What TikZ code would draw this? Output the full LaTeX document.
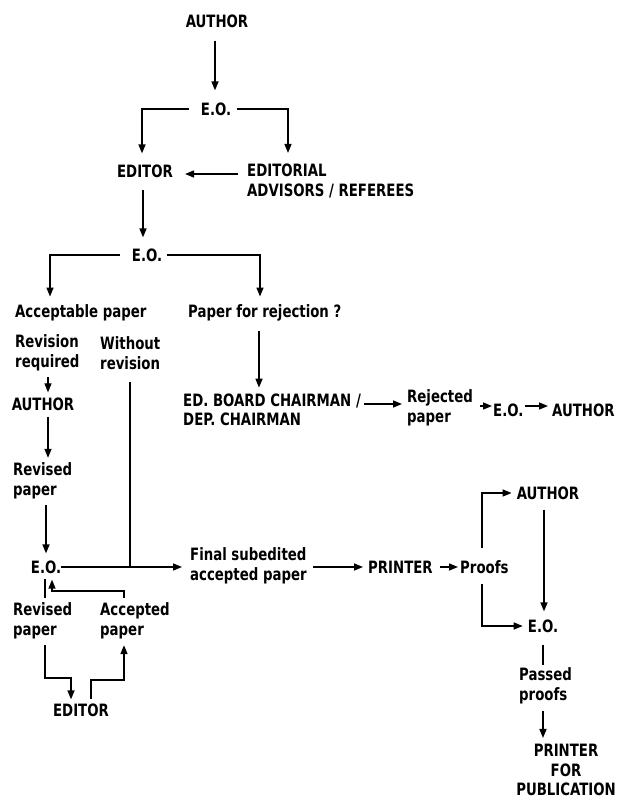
\documentclass[tikz,border=0pt]{standalone}
\usepackage{fontspec}
\setmainfont{DejaVu Sans Condensed}[FakeStretch=0.87]
\usetikzlibrary{arrows.meta,calc}
\begin{document}
\begin{tikzpicture}[x=1pt,y=-1pt,
  lbl/.style={inner sep=0pt, font=\bfseries\fontsize{17}{19.5}\selectfont, align=left},
  clbl/.style={lbl, align=center},
  arr/.style={line width=1.5pt, -{Triangle[length=9pt,width=7pt]}},
  ln/.style={line width=1.5pt}]
\useasboundingbox (0,0) rectangle (616,808);
% nodes
\node[lbl] (a1) at (217,21) {AUTHOR};
\node[lbl] (eo1) at (216,109) {E.O.};
\node[lbl] (ed1) at (145,171) {EDITOR};
\node[lbl, anchor=west] (adv) at (247,181) {EDITORIAL\\ADVISORS / REFEREES};
\node[lbl] (eo2) at (147,255) {E.O.};
\node[lbl, anchor=west] (acc) at (15,313) {Acceptable paper};
\node[lbl, anchor=west] (rej) at (188,313) {Paper for rejection ?};
\node[lbl, anchor=west] (revreq) at (15,353) {Revision\\required};
\node[lbl, anchor=west] (without) at (100,353) {Without\\revision};
\node[lbl] (a2) at (43,404) {AUTHOR};
\node[lbl, anchor=west] (revp) at (13,481) {Revised\\paper};
\node[lbl] (eo3) at (46,567) {E.O.};
\node[lbl, anchor=west] (edb) at (183,410) {ED. BOARD CHAIRMAN /\\DEP. CHAIRMAN};
\node[lbl, anchor=west] (rjp) at (407,408) {Rejected\\paper};
\node[lbl, anchor=west] (eo5) at (493,410) {E.O.};
\node[lbl, anchor=west] (a4) at (552,410) {AUTHOR};
\node[lbl, anchor=west] (fin) at (190,566) {Final subedited\\accepted paper};
\node[lbl, anchor=west] (pr1) at (368,567) {PRINTER};
\node[lbl, anchor=west] (proofs) at (460,567) {Proofs};
\node[lbl] (a3) at (548,493) {AUTHOR};
\node[lbl] (eo4) at (543,626) {E.O.};
\node[lbl, anchor=west] (passed) at (519,686) {Passed\\proofs};
\node[clbl] (pfp) at (566,770) {PRINTER\\FOR\\PUBLICATION};
\node[lbl, anchor=west] (revp2) at (13,621) {Revised\\paper};
\node[lbl, anchor=west] (accp) at (100,621) {Accepted\\paper};
\node[lbl] (ed2) at (81,710) {EDITOR};
% connectors
\draw[arr, shorten <=13pt, shorten >=12pt] ([xshift=-2pt]a1.south) -- ([xshift=-2pt]a1.south |- eo1.north);
\draw[arr, shorten <=12pt, shorten >=11pt] (eo1.west) -| ([xshift=-3pt]ed1.north);
\draw[arr, shorten <=6pt, shorten >=11pt] (eo1.east) -| ([xshift=41pt]adv.north west);
\draw[arr, shorten <=9pt, shorten >=12pt] ([yshift=-3pt]ed1.east -| adv.west) -- ([yshift=-3pt]ed1.east);
\draw[arr, shorten <=12pt, shorten >=11pt] ([xshift=-2pt]ed1.south) -- ([xshift=-2pt]ed1.south |- eo2.north);
\draw[arr, shorten <=12pt, shorten >=8pt] (eo2.west) -| ([xshift=35pt]acc.north west);
\draw[arr, shorten <=5pt, shorten >=8pt] (eo2.east) -| ([xshift=72pt]rej.north west);
\draw[arr, shorten <=10pt, shorten >=6pt] ([xshift=71pt]rej.south west) -- ([xshift=71pt]rej.south west |- edb.north);
\draw[arr, line width=1.2pt, shorten <=6pt, shorten >=5pt] ([xshift=33pt]revreq.south west) -- ([xshift=33pt]revreq.south west |- a2.north);
\draw[arr, shorten <=6pt, shorten >=5pt] ([xshift=5pt]a2.south) -- ([xshift=5pt]a2.south |- revp.north);
\draw[arr, shorten <=6pt, shorten >=7pt] ([xshift=33pt]revp.south west) -- ([xshift=33pt]revp.south west |- eo3.north);
\draw[arr, shorten <=0pt, shorten >=8pt] (eo3.east) -- (eo3.east -| fin.west);
\coordinate (wj) at ([xshift=30pt]without.south west |- eo3.east);
\draw[ln, line width=1.3pt, shorten <=12pt] ([xshift=30pt]without.south west) -- (wj);
\draw[arr, shorten <=3pt, shorten >=5pt] ([yshift=4pt]edb.east |- rjp.west) -- ([yshift=4pt]rjp.west);
\draw[arr, shorten <=7pt, shorten >=1pt] ([yshift=4pt]rjp.east |- eo5.west) -- ([yshift=4pt]eo5.west);
\draw[arr, shorten <=1pt, shorten >=4pt] ([yshift=4pt]eo5.east) -- ([yshift=4pt]a4.west);
\draw[arr, shorten <=6pt, shorten >=5pt] (fin.east |- pr1.west) -- (pr1.west);
\draw[arr, shorten <=7pt, shorten >=2pt] (pr1.east) -- (proofs.west);
\draw[arr, shorten <=12pt, shorten >=5pt] ([xshift=22pt]proofs.north west) |- (a3.west);
\draw[arr, shorten <=10pt, shorten >=5pt] ([xshift=22pt]proofs.south west) |- (eo4.west);
\draw[arr, shorten <=10pt, shorten >=8pt] ([xshift=-4pt]a3.south) -- ([xshift=-4pt]a3.south |- eo4.north);
\draw[ln, line width=1.1pt, shorten <=12pt, shorten >=3pt] (eo4.south) -- (eo4.south |- passed.north);
\draw[arr, shorten <=7pt, shorten >=6pt] ([xshift=24pt]passed.south west) -- ([xshift=24pt]passed.south west |- pfp.north);
% bottom-left loop
\draw[ln, shorten <=5pt, shorten >=5pt] ([xshift=32pt]revp2.north west) -- ([xshift=32pt]revp2.north west |- eo3.south);
\draw[arr, shorten <=5pt, shorten >=6pt] ([xshift=24pt]accp.north west) |- ([xshift=6pt]eo3.south |- 0,591) -- ([xshift=6pt]eo3.south);
\draw[arr, shorten <=6pt, shorten >=4pt] ([xshift=32pt]revp2.south west) |- ([xshift=-10pt]ed2.north |- 0,678) -- ([xshift=-10pt]ed2.north);
\draw[arr, shorten <=4pt, shorten >=6pt] ([xshift=10pt]ed2.north) |- ([xshift=24pt]accp.south west |- 0,680) -- ([xshift=24pt]accp.south west);
\end{tikzpicture}
\end{document}
